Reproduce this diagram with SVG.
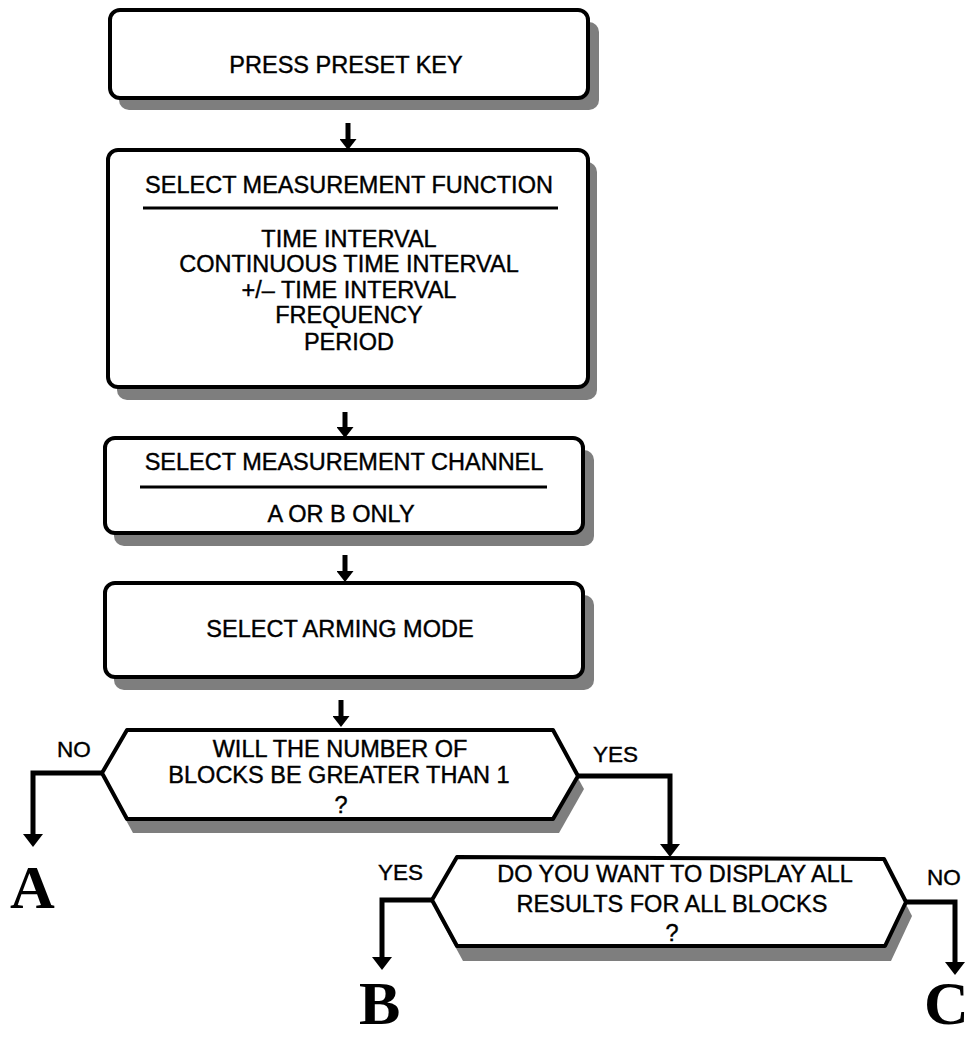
<svg xmlns="http://www.w3.org/2000/svg" width="971" height="1038" viewBox="0 0 971 1038">
<style>
.box{fill:#fff;stroke:#000;stroke-width:4;stroke-linejoin:round}
.shadow{fill:#7e7e7e;stroke:none}
.t{font-family:"Liberation Sans",Arial,sans-serif;font-size:23.5px;fill:#000;stroke:#000;stroke-width:0.4;text-anchor:middle}
.lbl{font-family:"Liberation Sans",Arial,sans-serif;font-size:22.5px;fill:#000;stroke:#000;stroke-width:0.4}
.big{font-family:"Liberation Serif","Times New Roman",serif;font-size:62px;font-weight:bold;fill:#000}
.sep{stroke:#000;stroke-width:3}
.conn{fill:none;stroke:#000;stroke-width:5;stroke-linejoin:miter}
</style>
<defs>
<marker id="ah" markerUnits="userSpaceOnUse" markerWidth="13" markerHeight="20" refX="0" refY="10" orient="auto" viewBox="0 0 13 20">
<path d="M0,0 L13,10 L0,20 Z" fill="#000"/>
</marker>
<marker id="ahs" markerUnits="userSpaceOnUse" markerWidth="11" markerHeight="17" refX="0" refY="8.5" orient="auto" viewBox="0 0 11 17">
<path d="M0,0 L11,8.5 L0,17 Z" fill="#000"/>
</marker>
</defs>

<g id="n1">
<rect class="shadow" x="119" y="22" width="480" height="88" rx="10"/>
<rect class="box" x="110" y="10" width="478" height="88" rx="10"/>
<text class="t" x="346" y="73">PRESS PRESET KEY</text>
</g>

<g id="n2">
<rect class="shadow" x="117" y="162" width="480" height="238" rx="10"/>
<rect class="box" x="108" y="150" width="480" height="237" rx="10"/>
<text class="t" x="349" y="193">SELECT MEASUREMENT FUNCTION</text>
<line class="sep" x1="143" y1="208" x2="558" y2="208"/>
<text class="t" x="349" y="247">TIME INTERVAL</text>
<text class="t" x="349" y="272">CONTINUOUS TIME INTERVAL</text>
<text class="t" x="349" y="298">+/– TIME INTERVAL</text>
<text class="t" x="349" y="323">FREQUENCY</text>
<text class="t" x="349" y="350">PERIOD</text>
</g>

<g id="n3">
<rect class="shadow" x="114" y="450" width="480" height="96" rx="10"/>
<rect class="box" x="105" y="438" width="478" height="95" rx="10"/>
<text class="t" x="344" y="470">SELECT MEASUREMENT CHANNEL</text>
<line class="sep" x1="140" y1="487" x2="547" y2="487"/>
<text class="t" x="341" y="522">A OR B ONLY</text>
</g>

<g id="n4">
<rect class="shadow" x="114" y="595" width="480" height="95" rx="10"/>
<rect class="box" x="105" y="583" width="478" height="94" rx="10"/>
<text class="t" x="340" y="637">SELECT ARMING MODE</text>
</g>

<g id="d1">
<polygon class="shadow" points="133,744 559,744 584,789 559,833 133,833 108,787"/>
<polygon class="box" points="127,730 553,730 578,776 553,819 127,819 102,773"/>
<text class="t" x="340" y="757">WILL THE NUMBER OF</text>
<text class="t" x="339" y="783">BLOCKS BE GREATER THAN 1</text>
<text class="t" x="341" y="813">?</text>
</g>

<g id="d2">
<polygon class="shadow" points="463,872 890,873 912,916 891,961 463,961 438,915"/>
<polygon class="box" points="457,857 884,859 906,902 885,946 457,946 432,900"/>
<text class="t" x="675" y="882">DO YOU WANT TO DISPLAY ALL</text>
<text class="t" x="672" y="912">RESULTS FOR ALL BLOCKS</text>
<text class="t" x="672" y="941">?</text>
</g>

<g id="labels">
<text class="lbl" x="57" y="757">NO</text>
<text class="lbl" x="593" y="762">YES</text>
<text class="lbl" x="378" y="880">YES</text>
<text class="lbl" x="927" y="885">NO</text>
<text class="big" x="10" y="908">A</text>
<text class="big" x="359" y="1024">B</text>
<text class="big" x="924" y="1024">C</text>
</g>

<g id="connectors">
<path class="conn" d="M348,123 V139" marker-end="url(#ahs)"/>
<path class="conn" d="M345,412 V427" marker-end="url(#ahs)"/>
<path class="conn" d="M345,555 V571" marker-end="url(#ahs)"/>
<path class="conn" d="M341,700 V716" marker-end="url(#ahs)"/>
<path class="conn" d="M102,773 H33 V834" marker-end="url(#ah)"/>
<path class="conn" d="M578,776 H670 V844" marker-end="url(#ah)"/>
<path class="conn" d="M432,900 H382 V957" marker-end="url(#ah)"/>
<path class="conn" d="M906,902 H955 V962" marker-end="url(#ah)"/>
</g>
</svg>
